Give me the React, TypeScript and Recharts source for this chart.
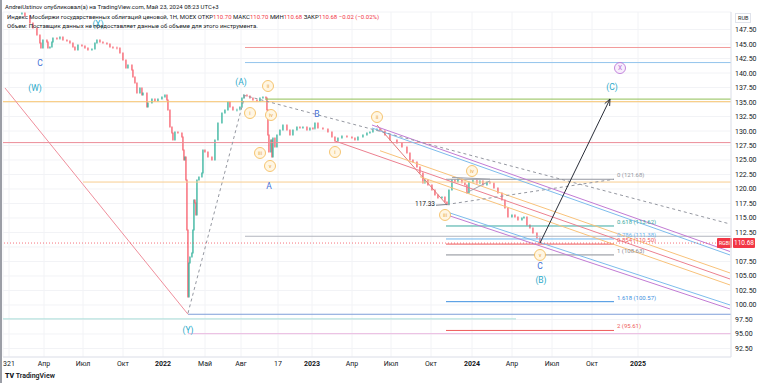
import React from 'react';
import { ComposedChart, Bar, XAxis, YAxis, CartesianGrid, ReferenceLine, ReferenceDot } from 'recharts';

// ---------- DATA ----------
const priceT = [
  19, 22, 27, 30, 34, 37, 38, 40, 44, 45,
  47, 49, 50, 54, 57, 60, 64, 67, 70, 72,
  75, 79, 82, 85, 89, 92, 94, 97, 100, 104,
  107, 110, 114, 117, 120, 123, 125, 129, 130, 132,
  134, 137, 139, 140, 144, 145, 149, 152, 155, 159,
  162, 164, 165, 167, 169, 170, 172, 175, 179, 180,
  181, 182, 183, 184, 185, 186, 187, 189, 190, 191,
  192, 193, 194, 196, 199, 200, 202, 205, 209, 212,
  215, 219, 222, 225, 227, 230, 234, 237, 239, 241,
  244, 247, 250, 254, 257, 260, 263, 264, 265, 266,
  268, 269, 270, 272, 274, 277, 280, 284, 287, 290,
  294, 297, 300, 304, 307, 310, 312, 315, 320, 325,
  329, 332, 335, 339, 344, 349, 352, 355, 360, 364,
  367, 370, 374, 377, 382, 387, 394, 399, 404, 407,
  410, 414, 417, 420, 422, 425, 429, 432, 435, 439,
  442, 444, 446, 449, 452, 455, 459, 462, 464, 466,
  470, 474, 477, 480, 484, 487, 491, 495, 499, 502,
  505, 509, 512, 515, 519, 521, 524, 527, 530, 534,
  537,
];
const priceClose = [
  150.34, 149.83, 148.62, 147.76, 146.55, 145.17, 144.31, 145.69, 145.34, 144.31,
  144.48, 145.34, 146.03, 145.9, 146.21, 145.69, 145.52, 145.17, 144.48, 143.97,
  144.83, 144.66, 144.31, 143.97, 144.14, 145.17, 145.69, 145.34, 145.17, 145.0,
  144.48, 144.4, 144.31, 143.45, 142.24, 140.86, 141.38, 140.52, 139.31, 138.28,
  136.55, 137.41, 136.21, 136.55, 134.14, 134.83, 135.52, 135.17, 135.52, 135.86,
  136.21, 135.34, 133.62, 130.69, 129.66, 128.45, 129.83, 129.66, 128.97, 126.72,
  125.0, 125.52, 121.55, 112.93, 101.38, 107.24, 108.28, 108.97, 112.93, 118.1,
  117.59, 115.52, 121.55, 122.07, 122.76, 126.72, 126.38, 125.52, 125.0, 128.45,
  131.38, 133.1, 133.62, 135.0, 134.14, 133.62, 133.7, 134.14, 135.69, 136.21,
  136.03, 135.69, 135.34, 135.17, 135.69, 135.86, 135.7, 133.62, 129.31, 126.38,
  128.45, 125.52, 128.79, 127.24, 129.31, 130.17, 131.03, 130.17, 129.31, 130.17,
  130.69, 130.52, 130.69, 130.17, 130.52, 130.4, 131.38, 130.52, 130.34, 129.83,
  128.97, 128.28, 128.79, 129.14, 128.97, 128.79, 128.45, 128.97, 129.31, 129.66,
  129.83, 130.17, 130.34, 130.0, 129.31, 128.45, 127.93, 127.24, 126.21, 125.0,
  124.66, 123.79, 122.76, 121.03, 121.55, 120.69, 119.83, 118.97, 118.45, 118.62,
  117.76, 117.33, 119.83, 121.55, 121.2, 121.68, 121.1, 120.69, 119.31, 121.2,
  121.5, 121.0, 121.4, 120.69, 121.21, 121.0, 120.17, 119.31, 118.1, 116.72,
  115.17, 115.52, 115.17, 114.66, 115.0, 115.17, 113.79, 113.28, 112.41, 111.55,
  110.68,
];

const xTickValues = [6, 41, 80, 120, 160, 202, 238, 275, 309, 349, 388, 428, 469, 509, 549, 589, 635];
const xTickLabels = ['321', 'Апр', 'Июл', 'Окт', '2022', 'Май', 'Авг', '17', '2023', 'Апр', 'Июл', 'Окт', '2024', 'Апр', 'Июл', 'Окт', '2025'];
const yTickValues = [92.5, 95, 97.5, 100, 102.5, 105, 107.5, 110, 112.5, 115, 117.5, 120, 122.5, 125, 127.5, 130, 132.5, 135, 137.5, 140, 142.5, 145, 147.5];
const yTickHidden = [110];

const lastPrice = 110.68;

// horizontal levels
const hLevelValues = [144.4, 141.8, 135.5, 135.05, 128.0, 121.2, 111.85, 98.4, 97.6, 95.05];
const hLevelStarts = [242, 242, 262, 0, 0, 80, 242, 185, 0, 185];
const hLevelEnds = [728, 728, 728, 728, 728, 728, 728, 728, 513, 728];

// fibonacci extension
const fibRatios = ['0', '0.618', '0.786', '0.854', '1', '1.618', '2'];
const fibPrices = [121.68, 113.62, 111.38, 110.5, 108.63, 100.57, 95.61];
const fibStart = 443;
const fibEnd = 611;

// trend segments [t1, v1, t2, v2]
const trendSegments = [
  [2, 137.41, 185, 98.4],
  [374, 131.03, 444, 117.24],
  [369, 131.03, 727, 109.22],
  [369, 130.52, 727, 108.62],
  [377, 126.6, 727, 105.52],
  [332, 128.28, 727, 104.48],
  [417, 122.12, 727, 103.45],
  [444, 116.03, 727, 100.0],
  [444, 115.52, 727, 99.31],
  [449, 122.0, 487, 121.7],
  [464, 119.4, 487, 121.4],
  [433, 117.2, 444, 117.33],
];
const dashedSegments = [
  [185, 98.6, 242, 136.2],
  [240, 136.2, 727, 113.97],
  [444, 117.33, 611, 121.68],
];
const arrowSegment = [537, 110.68, 607, 135.52];

// wave labels
const waveText = ['C', '(W)', '(X)', '(A)', 'i', 'ii', 'iii', 'iv', 'v', 'A', 'B', 'i', 'ii', 'iii', 'iv', 'v', 'C', '(B)', '(C)', 'X', '(Y)'];
const waveT = [37, 32, 95, 238, 247, 265, 257, 268, 267, 266, 314, 332, 374, 442, 469, 537, 537, 538, 609, 617, 185];
const waveV = [141.72, 137.41, 148.45, 138.45, 133.1, 137.76, 126.21, 132.76, 123.97, 120.52, 132.93, 126.38, 132.41, 115.52, 123.1, 108.62, 106.72, 104.31, 137.59, 140.86, 95.69];
const waveKind = ['blue', 'teal', 'teal', 'teal', 'circle', 'circle', 'circle', 'circle', 'circle', 'blue', 'blue', 'circle', 'circle', 'circle', 'circle', 'circle', 'blue', 'teal', 'teal', 'purple', 'teal'];

const lowLabel = { t: 432, v: 117.33, text: '117.33' };

// ---------- STYLES ----------
const FONT = 'Roboto, "Noto Sans", Arial, sans-serif';
const UP = '#22ab94';
const DOWN = '#f7525f';
const hLevelColors = ['#f29a9a', '#93c4ec', '#8fbf55', '#f8c46e', '#ec8d98', '#f8cd8f', '#b2b5be', '#7f9fd9', '#a9ddd8', '#eab8e0'];
const fibColors = ['#9598a1', '#3aa8a0', '#6fb6ee', '#ee5b5b', '#8a8d96', '#3d8fe0', '#ee5b5b'];
const trendColors = ['#ef8f9c', '#e07a7a', '#c27bd4', '#7dbcec', '#f8c27a', '#ec8090', '#f8c27a', '#7dbcec', '#c27bd4', '#a0a3ab', '#a0a3ab', '#787b86'];
const kindColor: Record<string, string> = { blue: '#3f6fd6', teal: '#29a9c9', purple: '#b56ad3', circle: '#e9a53c' };

const candles = priceT.map((t, i) => {
  const close = priceClose[i];
  const open = i === 0 ? close : priceClose[i - 1];
  return { t, open, close, range: [Math.min(open, close), Math.max(open, close)] };
});

const CandleShape = (props: any) => {
  const { x, y, width, height, payload } = props;
  if (x == null || y == null) return null;
  const up = payload.close >= payload.open;
  const h = Math.max(Math.abs(height || 0), 1);
  const cx = x + width / 2;
  return (
    <g>
      <line x1={cx} y1={y - 1} x2={cx} y2={y + h + 1} stroke={up ? UP : DOWN} strokeWidth={0.6} />
      <rect x={x} y={y} width={width} height={h} fill={up ? UP : DOWN} />
    </g>
  );
};

const XTick = (props: any) => {
  const { x, y, payload } = props;
  const idx = xTickValues.indexOf(payload.value);
  const label = idx >= 0 ? xTickLabels[idx] : '';
  const isYear = /^\d{4}$/.test(label);
  return (
    <text x={x} y={y} dy={9} textAnchor="middle" fontSize={7} fontFamily={FONT} fill="#131722" fontWeight={isYear ? 700 : 400}>
      {label}
    </text>
  );
};

const YTick = (props: any) => {
  const { x, y, payload } = props;
  if (yTickHidden.includes(payload.value)) return <g />;
  return (
    <text x={x + 4} y={y} dy={2.5} textAnchor="start" fontSize={7} fontFamily={FONT} fill="#131722">
      {Number(payload.value).toFixed(2)}
    </text>
  );
};

const waveShape = (text: string, kind: string) => (p: any) => {
  const { cx, cy } = p;
  const color = kindColor[kind];
  if (kind === 'circle') {
    return (
      <g>
        <circle cx={cx} cy={cy} r={5.5} fill="#fff6e3" stroke="#f2b64f" strokeWidth={0.8} />
        <text x={cx} y={cy} dy={2} textAnchor="middle" fontSize={5.5} fontFamily={FONT} fill={color}>{text}</text>
      </g>
    );
  }
  if (kind === 'purple') {
    return (
      <g>
        <circle cx={cx} cy={cy} r={5.5} fill="#f8eefc" stroke={color} strokeWidth={0.8} />
        <text x={cx} y={cy} dy={2.3} textAnchor="middle" fontSize={6.5} fontFamily={FONT} fill={color}>{text}</text>
      </g>
    );
  }
  return (
    <text x={cx} y={cy} dy={3} textAnchor="middle" fontSize={8.5} fontFamily={FONT} fill={color}>{text}</text>
  );
};

const fibLabelShape = (text: string, color: string) => (p: any) => (
  <text x={p.cx} y={p.cy} dy={-2} textAnchor="start" fontSize={6} fontFamily={FONT} fill={color}>{text}</text>
);

const ArrowShape = (p: any) => {
  const { x1, y1, x2, y2 } = p;
  if (x1 == null) return null;
  const ang = Math.atan2(y2 - y1, x2 - x1);
  const len = 7;
  const spread = 0.4;
  const ax = x2 - len * Math.cos(ang - spread);
  const ay = y2 - len * Math.sin(ang - spread);
  const bx = x2 - len * Math.cos(ang + spread);
  const by = y2 - len * Math.sin(ang + spread);
  return (
    <g>
      <line x1={x1} y1={y1} x2={x2} y2={y2} stroke="#2a2e39" strokeWidth={1} />
      <polyline points={`${ax},${ay} ${x2},${y2} ${bx},${by}`} fill="none" stroke="#2a2e39" strokeWidth={1} />
    </g>
  );
};

const PriceTag = (p: any) => {
  const vb = p.viewBox || {};
  const right = (vb.x || 0) + (vb.width || 0);
  const y = vb.y || 0;
  return (
    <g>
      <rect x={right - 14} y={y - 5} width={15} height={10} fill="#f23645" rx={1} />
      <text x={right - 6.5} y={y} dy={2} textAnchor="middle" fontSize={5} fontFamily={FONT} fill="#fff">RGBI</text>
      <rect x={right + 2} y={y - 5} width={22} height={10} fill="#f23645" rx={1} />
      <text x={right + 13} y={y} dy={2.3} textAnchor="middle" fontSize={6.5} fontFamily={FONT} fill="#fff">{lastPrice.toFixed(2)}</text>
    </g>
  );
};

export default function App() {
  return (
    <div style={{ position: 'absolute', left: 0, top: 0, width: 758, height: 383, background: '#ffffff', overflow: 'hidden', fontFamily: FONT }}>
      <div style={{ position: 'absolute', left: 0, top: 0, width: 2, height: 383, background: '#9b9ea6' }} />
      <div style={{ position: 'absolute', left: 5, top: 3, fontSize: 6, color: '#131722', whiteSpace: 'nowrap' }}>
        AndreiUstinov опубликовал(а) на TradingView.com, Май 23, 2024 08:23 UTC+3
      </div>
      <ComposedChart width={758} height={383} data={candles} margin={{ top: 12, right: 0, bottom: 12, left: 3 }}>
        <CartesianGrid stroke="#f2f3f6" strokeWidth={1} />
        <XAxis
          dataKey="t"
          type="number"
          domain={[0, 728]}
          allowDataOverflow
          ticks={xTickValues}
          interval={0}
          tick={<XTick />}
          tickLine={false}
          tickSize={0}
          tickMargin={0}
          height={14}
          axisLine={{ stroke: '#e0e3eb' }}
        />
        <YAxis
          orientation="right"
          type="number"
          domain={[91.03, 150.52]}
          allowDataOverflow
          ticks={yTickValues}
          interval={0}
          tick={<YTick />}
          tickLine={false}
          tickSize={0}
          tickMargin={0}
          width={27}
          axisLine={{ stroke: '#e0e3eb' }}
        />
        {hLevelValues.map((v, i) => (
          <ReferenceLine key={'h' + i} segment={[{ x: hLevelStarts[i], y: v }, { x: hLevelEnds[i], y: v }]} stroke={hLevelColors[i]} strokeWidth={1} ifOverflow="visible" />
        ))}
        {fibPrices.map((v, i) => (
          <ReferenceLine key={'f' + i} segment={[{ x: fibStart, y: v }, { x: fibEnd, y: v }]} stroke={fibColors[i]} strokeWidth={1} ifOverflow="visible" />
        ))}
        {trendSegments.map((s, i) => (
          <ReferenceLine key={'s' + i} segment={[{ x: s[0], y: s[1] }, { x: s[2], y: s[3] }]} stroke={trendColors[i]} strokeWidth={1} ifOverflow="visible" />
        ))}
        {dashedSegments.map((s, i) => (
          <ReferenceLine key={'d' + i} segment={[{ x: s[0], y: s[1] }, { x: s[2], y: s[3] }]} stroke="#9598a1" strokeDasharray="3 3" strokeWidth={1} ifOverflow="visible" />
        ))}
        <ReferenceLine y={lastPrice} stroke="#f23645" strokeOpacity={0.7} strokeDasharray="1 2" strokeWidth={1} label={PriceTag} ifOverflow="visible" />
        <Bar dataKey="range" barSize={2} isAnimationActive={false} shape={CandleShape} />
        <ReferenceLine segment={[{ x: arrowSegment[0], y: arrowSegment[1] }, { x: arrowSegment[2], y: arrowSegment[3] }]} shape={ArrowShape} ifOverflow="visible" />
        {fibPrices.map((v, i) => (
          <ReferenceDot key={'fl' + i} x={fibEnd + 3} y={v} r={0} ifOverflow="visible" shape={fibLabelShape(`${fibRatios[i]} (${v.toFixed(2)})`, fibColors[i])} />
        ))}
        {waveText.map((w, i) => (
          <ReferenceDot key={'w' + i} x={waveT[i]} y={waveV[i]} r={0} ifOverflow="visible" shape={waveShape(w, waveKind[i])} />
        ))}
        <ReferenceDot
          x={lowLabel.t}
          y={lowLabel.v}
          r={0}
          ifOverflow="visible"
          shape={(p: any) => (
            <text x={p.cx} y={p.cy} dy={2} textAnchor="end" fontSize={6.5} fontFamily={FONT} fill="#131722">{lowLabel.text}</text>
          )}
        />
      </ComposedChart>
      <div style={{ position: 'absolute', left: 7, top: 13, fontSize: 6, color: '#131722', whiteSpace: 'nowrap' }}>
        Индекс Мосбиржи государственных облигаций ценовой, 1Н, MOEX{'  '}
        <span>ОТКР</span><span style={{ color: '#f23645' }}>110.70</span>{' '}
        <span>МАКС</span><span style={{ color: '#f23645' }}>110.70</span>{' '}
        <span>МИН</span><span style={{ color: '#f23645' }}>110.68</span>{' '}
        <span>ЗАКР</span><span style={{ color: '#f23645' }}>110.68</span>{' '}
        <span style={{ color: '#f23645' }}>−0.02 (−0.02%)</span>
      </div>
      <div style={{ position: 'absolute', left: 7, top: 22, fontSize: 6, color: '#131722', whiteSpace: 'nowrap' }}>
        Объем: Поставщик данных не предоставляет данные об объеме для этого инструмента.
      </div>
      <div style={{ position: 'absolute', left: 735, top: 13, fontSize: 5.5, color: '#131722', border: '1px solid #e0e3eb', padding: '0 2px', lineHeight: '8px' }}>RUB</div>
      <div style={{ position: 'absolute', left: 5, top: 372, fontSize: 7, color: '#131722', whiteSpace: 'nowrap', fontWeight: 600 }}>
        <span style={{ fontWeight: 900 }}>TV</span> TradingView
      </div>
    </div>
  );
}
